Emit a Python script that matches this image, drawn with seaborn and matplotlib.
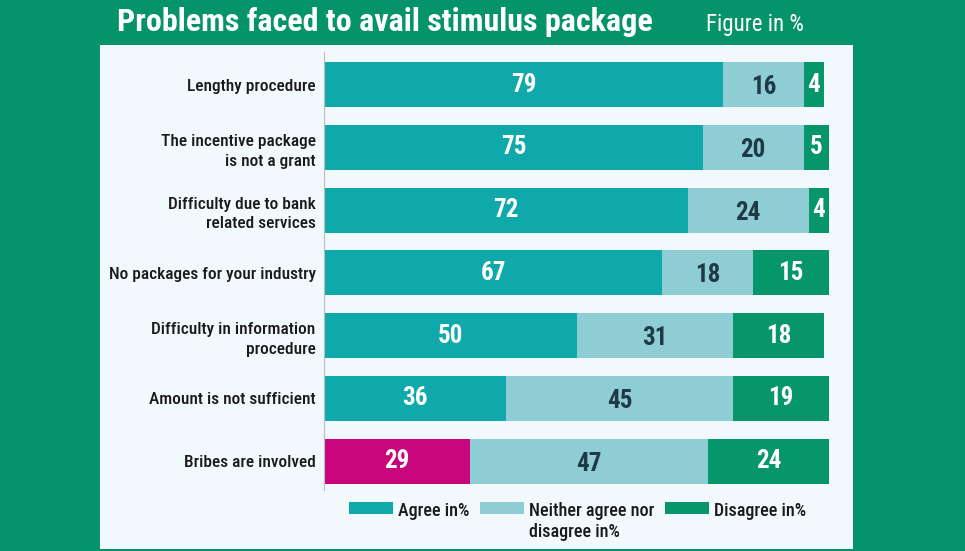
import matplotlib
matplotlib.use("Agg")
import matplotlib.pyplot as plt
from matplotlib.patches import Rectangle, Patch
import pandas as pd
import seaborn as sns

# ==========================================================
# Data
# ==========================================================

problems = [
    "Lengthy procedure",
    "The incentive package\nis not a grant",
    "Difficulty due to bank\nrelated services",
    "No packages for your industry",
    "Difficulty in information\nprocedure",
    "Amount is not sufficient",
    "Bribes are involved",
]
agree = [79, 75, 72, 67, 50, 36, 29]
neither = [16, 20, 24, 18, 31, 45, 47]
disagree = [4, 5, 4, 15, 18, 19, 24]

legend_labels = ["Agree in%", "Neither agree nor\ndisagree in%", "Disagree in%"]

# ==========================================================
# Style
# ==========================================================

BG_GREEN = "#05946a"
PANEL = "#f2f9fc"
TEAL = "#10a9ab"
LIGHT = "#8dcdd3"
DARK_GREEN = "#06966a"
MAGENTA = "#c8057b"
DARK_TEXT = "#1f3a46"
LABEL_TEXT = "#1a1a1a"

sns.set_theme(style="white")
plt.rcParams["font.family"] = ["Roboto Condensed", "DejaVu Sans"]

df = pd.DataFrame({
    "problem": problems,
    "agree": agree,
    "neither": neither,
    "disagree": disagree,
})
df["upto_neither"] = df["agree"] + df["neither"]
df["total"] = df["upto_neither"] + df["disagree"]

fig = plt.figure(figsize=(9.65, 5.51), dpi=100, facecolor=BG_GREEN)
fig.patches.append(
    Rectangle((100 / 965, 2 / 551), 753 / 965, 504 / 551,
              transform=fig.transFigure, facecolor=PANEL,
              edgecolor="none", zorder=-5)
)

ax = fig.add_axes([324 / 965, 61 / 551, 505 / 965, 438 / 551])
ax.set_facecolor("none")

agree_colors = [TEAL] * (len(problems) - 1) + [MAGENTA]

# stacked bars drawn as overlapping cumulative totals
bar_kw = dict(orient="h", width=0.72, saturation=1, legend=False,
              linewidth=0, edgecolor="none", ax=ax)
sns.barplot(data=df, x="total", y="problem", hue="problem",
            palette=[DARK_GREEN] * len(problems), **bar_kw)
sns.barplot(data=df, x="upto_neither", y="problem", hue="problem",
            palette=[LIGHT] * len(problems), **bar_kw)
sns.barplot(data=df, x="agree", y="problem", hue="problem",
            palette=agree_colors, **bar_kw)

for i, row in df.iterrows():
    ax.text(row["agree"] / 2, i, str(row["agree"]), ha="center", va="center",
            color="white", fontsize=18, fontweight="bold")
    ax.text(row["agree"] + row["neither"] / 2, i + 0.04, str(row["neither"]),
            ha="center", va="center", color=DARK_TEXT, fontsize=18,
            fontweight="bold")
    ax.text(row["upto_neither"] + row["disagree"] / 2, i, str(row["disagree"]),
            ha="center", va="center", color="white", fontsize=18,
            fontweight="bold")

ax.set_xlim(0, 100)
ax.set_ylim(6.46, -0.52)
ax.set_xlabel("")
ax.set_ylabel("")
ax.set_xticks([])
ax.tick_params(axis="y", length=0, pad=6, labelsize=12.5, labelcolor=LABEL_TEXT)
for label in ax.get_yticklabels():
    label.set_horizontalalignment("right")
    label.set_linespacing(1.4)
    label.set_fontweight("medium")

for side in ["top", "right", "bottom"]:
    ax.spines[side].set_visible(False)
ax.spines["left"].set_color("#b8bfc2")
ax.spines["left"].set_linewidth(0.8)

fig.text(117 / 965, 1 - 22 / 551, "Problems faced to avail stimulus package",
         ha="left", va="center", color="white", fontsize=23, fontweight="bold")
fig.text(706 / 965, 1 - 24 / 551, "Figure in %", ha="left", va="center",
         color="white", fontsize=16.5)

handles = [
    Patch(facecolor=TEAL, edgecolor="none"),
    Patch(facecolor=LIGHT, edgecolor="none"),
    Patch(facecolor=DARK_GREEN, edgecolor="none"),
]
leg = fig.legend(handles, legend_labels, ncol=3, loc="upper left",
                 bbox_to_anchor=(349 / 965, 1 - 502 / 551), frameon=False,
                 borderpad=0, borderaxespad=0,
                 prop={"size": 13, "weight": "medium"},
                 handlelength=2.45, handleheight=0.62, handletextpad=0.25,
                 columnspacing=0.6, labelcolor=LABEL_TEXT)

# keep the swatches level with the first line of each label
leg._legend_handle_box.align = "top"
for column in leg._legend_handle_box.get_children():
    for item in column.get_children():
        item.align = "top"

fig.savefig("out.png", dpi=100, facecolor=BG_GREEN)
